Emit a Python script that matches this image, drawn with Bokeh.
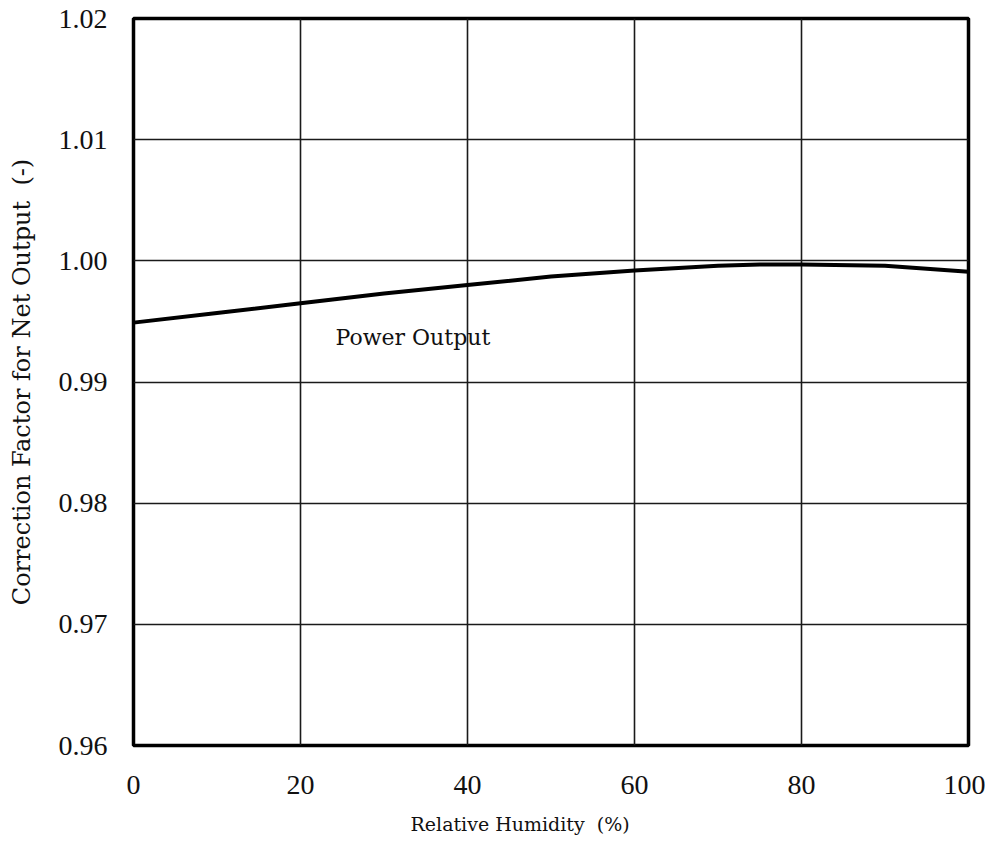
from bokeh.plotting import figure
from bokeh.models import Label, FixedTicker, NumeralTickFormatter, Range1d, Title
from bokeh.embed import file_html
from bokeh.resources import INLINE

# Data
humidity = [0, 10, 20, 30, 40, 50, 60, 70, 75, 80, 90, 100]
correction = [0.9949, 0.9957, 0.9965, 0.9973, 0.9980, 0.9987, 0.9992, 0.9996, 0.9997, 0.9997, 0.9996, 0.9991]
x_ticks = [0, 20, 40, 60, 80, 100]
y_ticks = [0.96, 0.97, 0.98, 0.99, 1.00, 1.01, 1.02]
series_label = "Power Output"
x_title = "Relative Humidity\u00a0\u00a0(%)"
y_title = "Correction Factor for Net Output\u00a0\u00a0(-)"

TICK_FONT = "Liberation Serif"
TEXT_FONT = "DejaVu Serif"

p = figure(width=985, height=852, output_backend="svg", toolbar_location=None,
           x_range=Range1d(0, 100), y_range=Range1d(0.96, 1.02),
           min_border_left=133, min_border_right=17, min_border_top=18, min_border_bottom=107)

p.background_fill_color = "white"
p.border_fill_color = "white"
p.outline_line_color = "black"
p.outline_line_width = 3.5

p.line(humidity, correction, line_color="black", line_width=4)

p.add_layout(Label(x=24.2, y=0.9937, text=series_label, text_font=TEXT_FONT,
                   text_font_size="22px", text_color="#111", text_baseline="middle"))

# x-axis title, placed slightly left of centre as in the reference
p.add_layout(Title(text=x_title, align="left", offset=277, standoff=28,
                   text_font=TEXT_FONT, text_font_size="19px",
                   text_font_style="normal", text_color="#111"), "below")

for ax in (p.xaxis[0], p.yaxis[0]):
    ax.axis_line_color = None
    ax.major_tick_line_color = None
    ax.minor_tick_line_color = None
    ax.major_label_text_font = TICK_FONT
    ax.major_label_text_font_size = "28px"
    ax.major_label_text_color = "#111"
    ax.axis_label_text_font = TEXT_FONT
    ax.axis_label_text_font_style = "normal"
    ax.axis_label_text_color = "#111"

p.yaxis.axis_label_text_font_size = "24px"
p.xaxis.ticker = FixedTicker(ticks=x_ticks)
p.yaxis.ticker = FixedTicker(ticks=y_ticks)
p.yaxis.formatter = NumeralTickFormatter(format="0.00")
p.xaxis.major_label_standoff = 24
p.yaxis.major_label_standoff = 20
p.yaxis.axis_label = y_title
p.yaxis.axis_label_standoff = 20

p.xgrid.ticker = FixedTicker(ticks=x_ticks)
p.ygrid.ticker = FixedTicker(ticks=y_ticks)
for g in (p.xgrid[0], p.ygrid[0]):
    g.grid_line_color = "#1a1a1a"
    g.grid_line_width = 1.6

open("out.html", "w").write(file_html(p, INLINE))
